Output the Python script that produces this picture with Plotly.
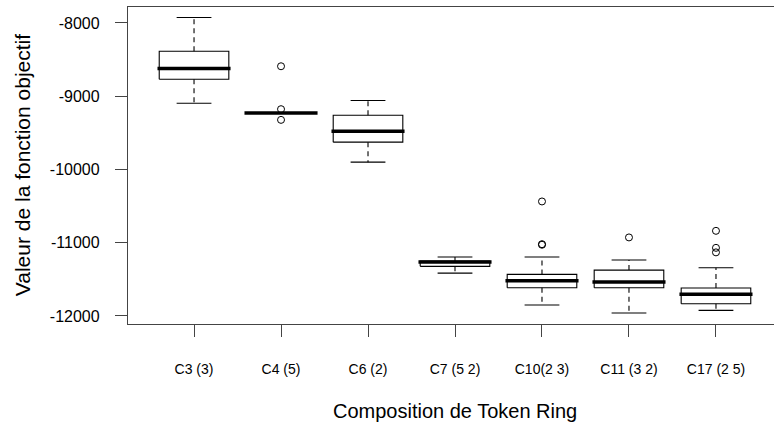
import plotly.graph_objects as go

# Statistiques (valeurs estimées)
categories = ["C3 (3)", "C4 (5)", "C6 (2)", "C7 (5 2)", "C10(2 3)", "C11 (3 2)", "C17 (2 5)"]
lower_whisker = [-9096, -9232, -9900, -11415, -11851, -11960, -11924]
q1 = [-8768, -9232, -9627, -11323, -11615, -11615, -11833]
median = [-8622, -9228, -9477, -11265, -11520, -11537, -11705]
q3 = [-8386, -9224, -9259, -11251, -11433, -11374, -11619]
upper_whisker = [-7926, -9224, -9059, -11196, -11196, -11237, -11342]

outlier_cat = [2, 2, 2, 5, 5, 5, 6, 7, 7, 7]
outlier_val = [-8591, -9177, -9323, -10437, -11020, -11028, -10928, -10838, -11070, -11132]

y_ticks = [-8000, -9000, -10000, -11000, -12000]

FONT = "Liberation Sans, Arial, sans-serif"
half = 0.4   # demi-largeur de la boite (boxwex 0.8 comme dans R)
cap = 0.2    # demi-largeur des moustaches
med_half = 0.42  # la mediane deborde un peu de la boite

box_x, box_y = [], []
wh_x, wh_y = [], []
cap_x, cap_y = [], []
med_x, med_y = [], []
for i in range(len(categories)):
    x = i + 1
    box_x += [x - half, x + half, x + half, x - half, x - half, None]
    box_y += [q1[i], q1[i], q3[i], q3[i], q1[i], None]
    wh_x += [x, x, None, x, x, None]
    wh_y += [q3[i], upper_whisker[i], None, q1[i], lower_whisker[i], None]
    cap_x += [x - cap, x + cap, None, x - cap, x + cap, None]
    cap_y += [upper_whisker[i], upper_whisker[i], None, lower_whisker[i], lower_whisker[i], None]
    med_x += [x - med_half, x + med_half, None]
    med_y += [median[i], median[i], None]

fig = go.Figure()
fig.add_trace(go.Scatter(x=wh_x, y=wh_y, mode="lines",
                         line=dict(color="black", width=1.1, dash="5px,4px")))
fig.add_trace(go.Scatter(x=cap_x, y=cap_y, mode="lines", line=dict(color="black", width=1.1)))
fig.add_trace(go.Scatter(x=box_x, y=box_y, mode="lines", line=dict(color="black", width=1.1)))
fig.add_trace(go.Scatter(x=med_x, y=med_y, mode="lines", line=dict(color="black", width=3.5)))
fig.add_trace(go.Scatter(x=outlier_cat, y=outlier_val, mode="markers",
                         marker=dict(symbol="circle-open", size=7, color="black",
                                     line=dict(width=1))))

# titres des axes placés comme dans le graphique R d'origine
fig.add_annotation(x=4, y=-0.276, xref="x", yref="paper", yanchor="middle",
                   text="Composition de Token Ring", showarrow=False,
                   font=dict(family=FONT, size=20, color="black"))
fig.add_annotation(x=-0.163, y=0.5, xref="paper", yref="paper",
                   xanchor="center", yanchor="middle", textangle=-90,
                   text="Valeur de la fonction objectif", showarrow=False,
                   font=dict(family=FONT, size=21, color="black"))

fig.update_layout(
    width=774, height=426,
    margin=dict(l=128, r=0, t=7, b=102),
    paper_bgcolor="white", plot_bgcolor="white",
    showlegend=False,
    font=dict(family=FONT, color="black"),
)
fig.update_xaxes(
    range=[0.241, 7.667], tickvals=list(range(1, len(categories) + 1)), ticktext=categories,
    showgrid=False, zeroline=False, showline=True, mirror=True, linecolor="#444", linewidth=1.3,
    ticks="outside", ticklen=12, tickcolor="#444", tickwidth=1.3, automargin=False,
    tickfont=dict(family=FONT, size=14, color="black"), ticklabelstandoff=20,
)
fig.update_yaxes(
    range=[-12110, -7782], tickvals=y_ticks, ticktext=[str(v) for v in y_ticks],
    showgrid=False, zeroline=False, showline=True, linecolor="#444", linewidth=1.3,
    ticks="outside", ticklen=12, tickcolor="#444", tickwidth=1.3, automargin=False,
    tickfont=dict(family=FONT, size=16, color="black"), ticklabelstandoff=12,
)

# la page HTML a une marge de 8px par défaut : on la supprime
fig.write_html("out.html", config={"displayModeBar": False},
               post_script="document.body.style.margin='0';")
